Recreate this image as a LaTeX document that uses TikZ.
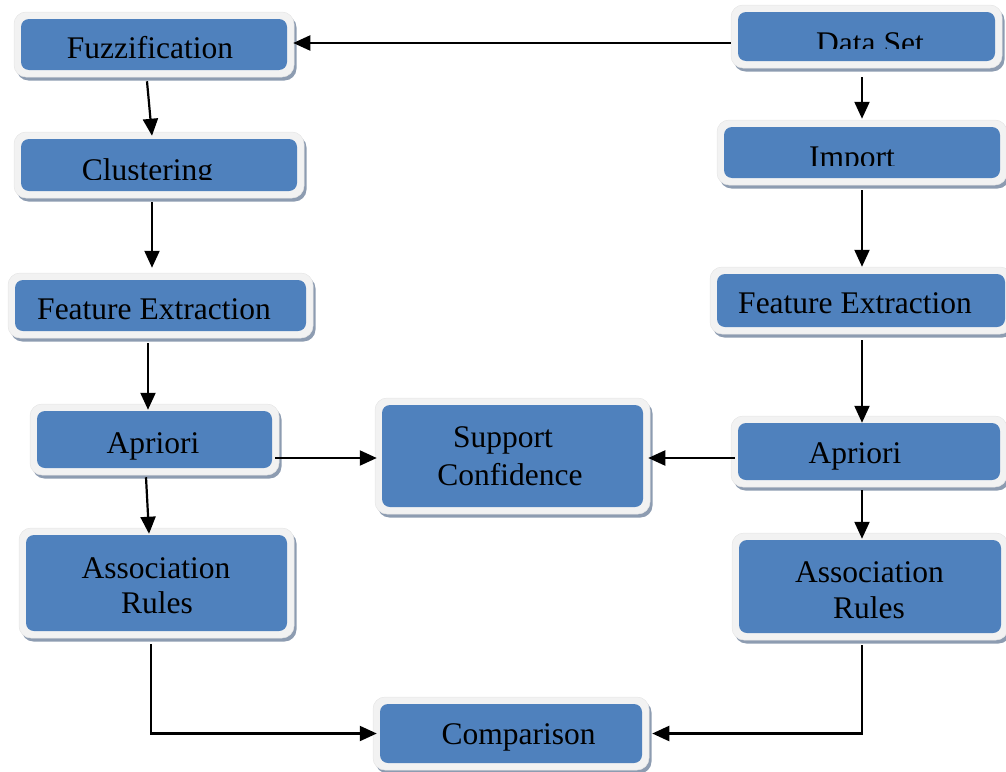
\documentclass[tikz,border=0pt]{standalone}
\usepackage{fontspec}
\setmainfont{Liberation Serif}
\usetikzlibrary{arrows.meta,shadows}
\definecolor{boxblue}{HTML}{4F81BD}
\definecolor{bordercol}{HTML}{F2F2F2}
\definecolor{edgecol}{HTML}{E6E6E6}
\definecolor{shadowcol}{HTML}{8D9CB1}
\tikzset{
  blk/.style={rectangle, rounded corners=12pt, fill=bordercol, draw=edgecol, line width=0.5pt,
    inner sep=0pt,
    drop shadow={shadow xshift=2.5pt, shadow yshift=-3.5pt, fill=shadowcol, opacity=1},
    path picture={\fill[boxblue, rounded corners=8pt]
      ([shift={(7pt,7pt)}]path picture bounding box.south west) rectangle
      ([shift={(-7pt,-7pt)}]path picture bounding box.north east);}},
  txt/.style={inner sep=0pt, anchor=base, text=black, font=\fontsize{31.5}{38}\selectfont},
  arr/.style={line width=2.2pt, draw=black, -{Triangle[length=17pt,width=15pt]}},
  ln/.style={line width=2.2pt, draw=black}
}
\begin{document}
\begin{tikzpicture}[x=1pt,y=-1pt]
\useasboundingbox (0,0) rectangle (1006,771);
% boxes
\node[blk, minimum width=280pt, minimum height=65pt] (fuzz) at (154,44.5) {};
\node[blk, minimum width=271pt, minimum height=63pt] (ds) at (866.5,36.5) {};
\node[blk, minimum width=290pt, minimum height=65pt] (imp) at (862,152.5) {};
\node[blk, minimum width=290pt, minimum height=66pt] (clu) at (159,165) {};
\node[blk, minimum width=305pt, minimum height=65pt] (fel) at (160.5,305.5) {};
\node[blk, minimum width=302pt, minimum height=67pt] (fer) at (861,300.5) {};
\node[blk, minimum width=249pt, minimum height=71pt] (apl) at (154.5,439.5) {};
\node[blk, minimum width=276pt, minimum height=71pt] (apr) at (869,451.5) {};
\node[blk, minimum width=275pt, minimum height=116pt] (sup) at (512.5,456) {};
\node[blk, minimum width=275pt, minimum height=110pt] (arl) at (156.5,583) {};
\node[blk, minimum width=276pt, minimum height=107pt] (arr) at (870,586.5) {};
\node[blk, minimum width=276pt, minimum height=73pt] (cmp) at (511,733.5) {};
% texts
\node[txt] (tfuzz) at (150,58) {Fuzzification};
\begin{scope}
\clip (700,0) rectangle (1006,48);
\node[txt] (tds) at (870,53) {Data Set};
\end{scope}
\begin{scope}
\clip (700,120) rectangle (1006,165.5);
\node[txt] (timp) at (852,167) {Import};
\end{scope}
\begin{scope}
\clip (0,130) rectangle (320,179.3);
\node[txt] (tclu) at (147.5,180) {Clustering};
\end{scope}
\node[txt] (tfel) at (154,319) {Feature Extraction};
\node[txt] (tfer) at (855,313) {Feature Extraction};
\node[txt] (tapl) at (153,453) {Apriori};
\node[txt] (tapr) at (855,463) {Apriori};
\node[txt] (tsup1) at (503,447) {Support};
\node[txt] (tsup2) at (510,485) {Confidence};
\node[txt] (tarl1) at (156,578) {Association};
\node[txt] (tarl2) at (157,613) {Rules};
\node[txt] (tarr1) at (869.5,582) {Association};
\node[txt] (tarr2) at (869,618) {Rules};
\node[txt] (tcmp) at (518.5,744) {Comparison};
% connectors
\draw[arr] ([yshift=-6.5pt]ds.west) -- ([xshift=-1pt,yshift=1.5pt]fuzz.east);
\draw[arr] ([xshift=-4.5pt,yshift=-9pt]ds.south) -- ([yshift=1pt]imp.north);
\draw[arr] ([xshift=-7pt,yshift=-4pt]fuzz.south) -- ([xshift=-7pt,yshift=-4pt]clu.north);
\draw[arr] ([xshift=-7pt,yshift=-4pt]clu.south) -- ([xshift=-8.5pt,yshift=5pt]fel.north);
\draw[arr] ([xshift=-12.5pt,yshift=-5pt]fel.south) -- ([xshift=-6.5pt,yshift=-6pt]apl.north);
\draw[arr] ([xshift=-8.5pt,yshift=-2pt]apl.south) -- ([xshift=-7.5pt,yshift=-6pt]arl.north);
\draw[arr] ([xshift=-4pt,yshift=-18.5pt]apl.east) -- ([xshift=2pt,yshift=-2pt]sup.west);
\draw[arr] ([yshift=-5pt]imp.south) -- ([xshift=1pt]fer.north);
\draw[arr] ([xshift=1pt,yshift=-6pt]fer.south) -- ([xshift=-7pt,yshift=-7pt]apr.north);
\draw[arr] ([xshift=4pt,yshift=-6.5pt]apr.west) -- ([xshift=-2pt,yshift=-2pt]sup.east);
\draw[arr] ([xshift=-7pt,yshift=-3pt]apr.south) -- ([xshift=-8pt,yshift=-6pt]arr.north);
\draw[arr] ([xshift=-5.5pt,yshift=-6pt]arl.south) |- ([xshift=4pt]cmp.west);
\draw[arr] ([xshift=-8pt,yshift=-5pt]arr.south) |- ([xshift=3pt]cmp.east);
\end{tikzpicture}
\end{document}
